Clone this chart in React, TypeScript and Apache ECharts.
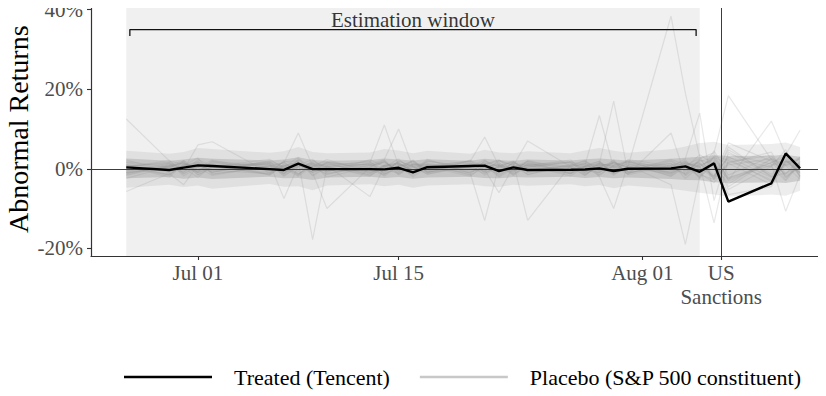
import React, { useEffect, useRef } from "react";
import * as echarts from "echarts";

// ---------- data ----------
const dates = [
  "2020-06-26", "2020-06-29", "2020-06-30", "2020-07-01", "2020-07-02",
  "2020-07-06", "2020-07-07", "2020-07-08", "2020-07-09", "2020-07-10",
  "2020-07-13", "2020-07-14", "2020-07-15", "2020-07-16", "2020-07-17",
  "2020-07-20", "2020-07-21", "2020-07-22", "2020-07-23", "2020-07-24",
  "2020-07-27", "2020-07-28", "2020-07-29", "2020-07-30", "2020-07-31",
  "2020-08-03", "2020-08-04", "2020-08-05", "2020-08-06", "2020-08-07",
  "2020-08-10", "2020-08-11", "2020-08-12",
];

// Abnormal returns (%) of the treated firm
const treated = [
  0.35, -0.3, 0.3, 0.85, 0.7, -0.1, -0.3, 1.3, -0.1, -0.1,
  -0.1, -0.15, 0.25, -0.9, 0.4, 0.7, 0.8, -0.6, 0.35, -0.3,
  -0.25, -0.2, 0.1, -0.55, 0.0, 0.1, 0.6, -0.75, 1.35, -8.25,
  -3.65, 3.85, 0.1,
];

// dense core of the placebo distribution (%)
const placeboCoreUpper = [
  2.6, 2.0, 2.3, 2.8, 2.5, 2.1, 2.3, 2.9, 2.2, 2.0, 2.2, 2.6, 2.3, 2.1, 2.4, 2.0, 2.5,
  2.2, 2.0, 2.3, 2.1, 2.4, 2.6, 2.3, 2.1, 2.5, 2.8, 3.0, 3.4, 3.2, 3.3, 3.5, 3.0,
];
const placeboCoreLower = [
  -2.4, -2.1, -2.5, -2.2, -2.6, -2.0, -2.4, -2.3, -2.8, -2.2, -2.0, -2.3, -2.1, -2.5, -2.2, -2.0, -2.3,
  -2.4, -2.1, -2.2, -2.0, -2.3, -2.1, -2.4, -2.2, -2.6, -2.8, -2.9, -3.4, -3.6, -3.4, -3.6, -3.0,
];
// lighter outer spread of the placebo lines (%)
const placeboOuterUpper = [
  4.5, 3.8, 4.2, 5.2, 5.0, 4.0, 4.4, 5.5, 4.2, 3.9, 4.1, 5.0, 4.6, 3.9, 4.5, 3.8, 4.8,
  4.1, 3.9, 4.4, 3.9, 4.6, 5.2, 4.5, 4.0, 4.9, 5.6, 6.5, 6.8, 6.0, 6.2, 6.6, 5.5,
];
const placeboOuterLower = [
  -4.8, -4.0, -4.6, -4.2, -5.0, -3.8, -4.5, -4.4, -5.4, -4.2, -3.9, -4.4, -4.0, -4.8, -4.2, -3.9, -4.4,
  -4.6, -4.0, -4.3, -3.9, -4.4, -4.1, -4.9, -4.2, -5.0, -5.5, -6.0, -6.5, -7.0, -6.5, -6.8, -5.5,
];

// individual placebo firms that stand out of the band (%)
const placebo01 = [12.5, 2.0, 1.0, -0.5, 0.8, 1.2, -0.8, 0.5, 1.5, -1.0, 0.3, 2.2, -1.5, 0.6, 1.1, -0.4, 0.9, -2.1, 0.2, 1.4, -0.6, 0.8, 1.9, -1.2, 0.4, -0.8, 1.6, 0.3, -2.4, 1.0, 2.5, -1.8, 0.7];
const placebo02 = [-1.5, 0.8, -0.6, 1.2, 0.4, -0.9, 1.8, 2.0, -17.8, 0.5, -1.2, 0.8, 0.3, -1.6, 1.0, 0.2, -0.7, 1.3, -0.4, 0.9, -1.1, 0.6, -0.3, 1.7, -0.9, 0.5, -1.4, 2.2, 1.1, -2.6, 0.8, 1.9, -1.0];
const placebo03 = [0.9, -1.8, 2.1, -0.4, 1.3, 0.6, -1.1, 0.9, 2.4, -0.6, 1.5, 11.0, 0.8, -2.0, 0.4, 1.6, -0.8, 0.3, 1.2, -1.4, 0.7, 2.0, -0.5, 0.6, 1.8, -1.0, 0.4, -1.9, 3.2, 2.1, -2.8, 1.2, 0.3];
const placebo04 = [-0.8, 1.4, 0.3, -2.2, 0.9, -0.4, 1.7, -1.3, 0.6, 2.3, -0.9, 0.4, 1.1, -0.6, 2.4, -1.2, -13.0, 0.9, -0.5, 1.8, 0.4, -1.6, 0.8, 1.3, -0.7, 2.1, 0.2, -1.1, -3.5, 1.4, 4.2, -2.3, 0.9];
const placebo05 = [1.6, -0.7, 0.9, 2.7, -1.4, 0.8, 0.3, 2.9, -1.8, 0.4, 1.2, -0.9, 1.9, 0.7, -1.3, 0.6, 2.2, -0.8, 1.5, -13.0, 1.0, 0.4, -1.7, 0.9, 2.1, -0.3, 1.3, 0.6, 2.6, -3.1, 1.6, 3.3, -1.4];
const placebo06 = [-2.4, 0.6, 1.5, -0.8, 2.0, -1.6, 0.9, -0.3, 1.2, -2.1, 0.5, 1.7, -0.6, 2.2, -0.9, 0.8, 1.4, -1.5, 0.3, 0.9, -0.4, 1.8, -2.0, -10.0, 1.1, 0.6, -1.2, 2.4, -1.7, 3.0, -2.2, 0.8, 2.5];
const placebo07 = [0.4, 2.1, -1.2, 0.7, -0.5, 1.9, -1.4, 1.1, 0.2, 1.6, -1.7, 0.3, 2.5, -0.8, 0.6, -1.9, 1.0, 2.3, -0.6, 0.5, 1.7, 1.0, 13.4, 0.2, 2.0, -1.5, 0.8, 1.3, -2.0, 2.8, 0.4, -3.0, 1.2];
const placebo08 = [-1.1, 0.3, 1.8, -1.6, 0.5, 2.4, 0.1, -1.9, 0.7, 1.1, -0.5, 2.0, -1.2, 0.9, 1.5, -0.7, 0.2, 1.6, -1.3, 0.8, 2.2, -0.9, 1.2, 17.0, -1.0, 1.4, -0.6, 1.9, 2.7, -2.2, 1.0, 2.4, -1.7];
const placebo09 = [1.2, -0.9, 0.6, 1.9, -1.3, 0.4, 1.6, -0.7, 2.1, 0.3, -1.5, 0.9, 1.4, -0.4, 0.7, 2.0, -1.1, 0.5, 1.8, -0.6, 0.9, -1.4, 0.6, 1.5, 0.5, 38.4, 19.0, 3.0, -2.8, 1.7, 3.4, -1.2, 0.6];
const placebo10 = [0.7, 1.5, -1.8, 0.3, 2.2, -0.6, 0.8, 1.3, -1.0, 0.6, 1.9, -1.3, 0.2, 1.7, -0.8, 0.5, 1.2, -1.9, 0.9, 0.3, -1.2, 1.4, 0.7, -1.6, 0.9, -4.0, -19.0, -2.0, 3.1, -2.4, 1.5, 2.9, -2.0];
const placebo11 = [-0.5, 0.9, 2.0, -1.1, 0.6, 1.4, -1.7, 0.4, 1.0, -0.8, 2.3, 0.6, -1.4, 1.1, 0.3, -1.0, 1.8, 0.7, -1.5, 1.2, 0.5, -0.9, 1.6, 0.2, -1.3, 1.9, -0.5, 1.0, -13.6, 2.5, -3.2, 1.8, 0.4];
const placebo12 = [0.2, -1.4, 0.8, 1.6, -0.9, 2.1, 0.5, -1.2, 0.9, 1.8, -0.3, -1.6, 1.0, 0.6, -1.1, 2.2, 0.3, -0.7, 1.4, 0.8, -1.8, 0.6, 1.3, -0.5, 1.7, -1.2, 0.9, 2.6, 4.0, 18.4, 2.3, -1.5, 3.0];
const placebo13 = [1.8, 0.4, -1.0, 2.3, 0.7, -1.5, 1.2, 0.2, -0.7, 1.5, 0.9, -1.8, 0.6, 2.0, -0.4, 1.1, -1.6, 0.8, 0.4, 1.9, -1.1, 0.3, 1.0, -0.8, 2.3, 0.7, -1.6, 1.4, -2.5, 3.6, 1.2, -10.7, -1.5];
const placebo14 = [-1.3, 1.1, 0.4, -0.6, 1.8, 0.9, -1.2, 2.4, 0.3, -1.4, 0.8, 1.5, -0.2, -1.0, 1.9, 0.4, -0.6, 2.1, 0.9, -1.5, 1.2, 0.7, -1.1, 1.6, 0.2, -0.9, 2.2, -1.3, 3.8, -2.9, 12.0, 3.5, 9.7];
const placebo15 = [-5.7, -1.2, -4.0, 0.9, -0.8, 1.6, 0.4, -1.5, 1.3, 0.6, -1.9, 0.8, 1.2, -0.5, 0.9, -1.4, 2.1, 0.3, -0.8, 1.1, 1.6, -1.2, 0.4, 2.0, -1.5, 0.8, 1.3, -2.2, 1.9, -4.5, 2.4, 0.8, -2.6];
const placebo16 = [0.5, 1.7, -0.3, 6.0, 6.8, -1.1, 0.7, 1.8, -0.9, 0.4, 1.3, -1.2, 2.0, 0.5, -0.8, 1.4, 0.2, -1.3, 1.7, -0.4, 0.9, 2.1, -0.6, 0.3, 1.2, -1.8, 0.9, 1.6, -2.1, 4.8, -1.4, 2.0, 1.1];
const placebo17 = [2.2, -0.6, 1.1, 0.4, -1.7, 0.8, 1.5, 9.0, 0.6, -1.3, 0.9, 1.8, -0.7, 0.3, 1.2, -1.6, 0.5, 1.0, -0.9, 2.1, -0.5, 0.7, 1.9, -1.4, 0.6, 1.3, -2.4, 0.5, 2.9, 1.4, -4.0, 1.7, 2.3];
const placebo18 = [-0.9, 0.5, 1.4, -1.5, 0.2, 1.7, -0.6, 1.2, -1.0, -10.0, 0.4, -0.8, 1.6, -1.1, 0.7, 1.3, -0.4, 0.6, 2.0, -1.0, 0.3, -1.7, 1.1, 0.8, -0.6, 2.4, 1.0, -1.5, -2.7, 5.5, -2.0, -1.1, 1.6];
const placebo19 = [1.0, -1.5, 0.7, 1.3, -0.4, -1.2, 2.0, 0.6, 1.4, -0.5, 1.1, 2.3, 10.0, 0.4, -1.4, 0.9, 1.5, -0.6, 0.2, 1.6, -1.3, 0.5, 0.9, -0.7, 1.4, -1.9, 0.3, 3.5, 1.2, -3.8, 2.6, 1.0, -0.8];
const placebo20 = [-1.7, 0.8, 0.2, -0.9, 1.6, 0.5, -1.3, 2.2, -0.4, 0.9, 1.7, -0.3, -1.0, 1.3, 0.6, 1.9, 8.0, 0.7, -1.2, 0.4, 1.5, -0.8, 1.3, 0.6, -1.1, 1.0, 1.8, -0.7, 4.5, -1.6, 3.1, -2.1, 0.5];
const placebo21 = [0.6, 1.2, -1.4, 0.8, 1.1, -0.2, 0.9, -1.6, 1.8, 0.2, -0.7, 1.0, 0.5, 1.9, -0.9, 0.3, 1.1, 2.0, 0.8, 7.0, 0.5, 1.2, -0.9, 1.7, 0.3, -1.3, 1.5, 0.4, -1.9, 6.5, 1.9, -2.8, 2.0];
const placebo22 = [-0.3, 0.6, 1.6, -1.0, 0.4, 1.1, -1.9, 0.8, 0.5, 1.3, -1.1, 0.7, 1.5, -0.9, 2.0, 0.1, -1.2, 0.9, 1.6, -0.8, 0.6, 1.4, -1.5, 0.9, 1.7, 0.3, 2.6, 14.0, -8.0, 4.2, -1.8, 1.3, 2.8];
const placebo23 = [0.8, -2.2, 1.3, 0.2, -0.9, 1.4, -7.5, 0.9, -0.4, 1.6, 0.3, -1.4, 0.8, 1.1, -0.6, 2.0, -0.3, -6.0, 0.5, 1.2, -0.8, 0.6, 1.5, -1.2, 0.7, -0.4, 1.8, -2.5, 2.0, -6.5, -4.5, 2.2, -1.0];
const placebo24 = [-1.0, 0.4, -0.8, 1.7, 0.6, -1.3, 0.5, 1.4, -1.6, 0.8, -7.0, 0.6, -0.5, 1.2, 0.9, -0.9, 0.4, 1.1, -1.7, 0.6, 1.8, -0.4, -1.0, 2.2, -1.4, 9.0, -1.8, 1.0, 2.2, -5.2, 0.6, 4.8, -2.2];

const placeboLines = [
  placebo01, placebo02, placebo03, placebo04, placebo05, placebo06, placebo07, placebo08,
  placebo09, placebo10, placebo11, placebo12, placebo13, placebo14, placebo15, placebo16,
  placebo17, placebo18, placebo19, placebo20, placebo21, placebo22, placebo23, placebo24,
];

// axis ticks
const xTickDates = ["2020-07-01", "2020-07-15", "2020-08-01"];
const xTickLabels = ["Jul 01", "Jul 15", "Aug 01"];
const eventDate = "2020-08-06"; // sanctions announced after the close of this day
const eventLabel = "US\nSanctions";
const yTicks = [-20, 0, 20, 40];

const estimationStart = "2020-06-26";
const estimationEnd = "2020-08-05";
const estimationLabel = "Estimation window";

const TREATED_NAME = "Treated (Tencent)";
const PLACEBO_NAME = "Placebo (S&P 500 constituent)";

// ---------- helpers ----------
const DAY = 86400000;
const origin = Date.parse(dates[0]);
const dayOf = (d: string) => (Date.parse(d) - origin) / DAY;
const xs = dates.map(dayOf);
const pts = (vals: number[]) => vals.map((v, i) => [xs[i], v]);

const FONT = "'Liberation Serif', 'Times New Roman', serif";

function bandSeries(name: string, upper: number[], lower: number[], fill: string, z: number) {
  return {
    name,
    type: "custom",
    silent: true,
    z,
    data: [[xs[0], upper[0]]],
    renderItem: (_p: any, api: any) => {
      const top = upper.map((v, i) => api.coord([xs[i], v]));
      const bottom = lower.map((v, i) => api.coord([xs[i], v])).reverse();
      return {
        type: "polygon",
        shape: { points: top.concat(bottom) },
        style: { fill },
      };
    },
  };
}

export default function App() {
  const ref = useRef<HTMLDivElement>(null);

  useEffect(() => {
    if (!ref.current) return;
    const chart = echarts.init(ref.current, undefined, { renderer: "svg" });

    const eventX = dayOf(eventDate) + 0.5;
    const estStart = dayOf(estimationStart);
    const estEnd = dayOf(estimationEnd);
    const bracketInset = 0.25;
    const bracketY = 35;
    const bracketTickY = 33.4;
    const labelY = 37.5;

    const xLabelMap: Record<string, string> = {};
    xTickDates.forEach((d, i) => (xLabelMap[String(dayOf(d))] = xTickLabels[i]));
    xLabelMap[String(eventX)] = eventLabel;

    const placeboLineStyle = { color: "rgba(150,150,150,0.22)", width: 1.2 };

    const series: any[] = [
      {
        name: "shade",
        type: "line",
        data: pts(treated),
        symbol: "none",
        lineStyle: { opacity: 0 },
        silent: true,
        z: 1,
        markArea: {
          silent: true,
          itemStyle: { color: "#F0F0F0" },
          data: [[{ xAxis: estStart }, { xAxis: estEnd }]],
        },
      },
      bandSeries("outer-band", placeboOuterUpper, placeboOuterLower, "rgba(150,150,150,0.17)", 2),
    ];

    placeboLines.forEach((vals, k) => {
      series.push({
        name: "placebo-" + k,
        type: "line",
        data: pts(vals),
        symbol: "none",
        lineStyle: placeboLineStyle,
        silent: true,
        z: 3,
      });
    });

    series.push(
      bandSeries("core-band", placeboCoreUpper, placeboCoreLower, "rgba(150,150,150,0.36)", 4),
      {
        name: PLACEBO_NAME,
        type: "line",
        data: [],
        symbol: "none",
        lineStyle: { color: "#C8C8C8", width: 2 },
        itemStyle: { color: "#C8C8C8" },
        z: 3,
      },
      {
        name: "refs",
        type: "line",
        data: pts(treated),
        symbol: "none",
        lineStyle: { opacity: 0 },
        silent: true,
        z: 5,
        markLine: {
          silent: true,
          symbol: "none",
          label: { show: false },
          lineStyle: { color: "#3C3C3C", width: 1, type: "solid" },
          data: [{ yAxis: 0 }, { xAxis: eventX }],
        },
      },
      {
        name: TREATED_NAME,
        type: "line",
        data: pts(treated),
        symbol: "none",
        lineStyle: { color: "#000000", width: 2.4 },
        itemStyle: { color: "#000000" },
        z: 6,
      },
      {
        name: "bracket",
        type: "line",
        data: [
          [estStart + bracketInset, bracketTickY],
          [estStart + bracketInset, bracketY],
          [estEnd - bracketInset, bracketY],
          [estEnd - bracketInset, bracketTickY],
        ],
        symbol: "none",
        lineStyle: { color: "#111111", width: 1.3 },
        silent: true,
        z: 7,
      },
      {
        name: "bracket-label",
        type: "scatter",
        data: [[(estStart + estEnd) / 2, labelY]],
        symbolSize: 1,
        itemStyle: { color: "rgba(0,0,0,0)" },
        silent: true,
        z: 7,
        label: {
          show: true,
          position: "inside",
          formatter: estimationLabel,
          color: "#000000",
          fontFamily: FONT,
          fontSize: 21,
        },
      }
    );

    chart.setOption({
      animation: false,
      backgroundColor: "#FFFFFF",
      textStyle: { fontFamily: FONT },
      grid: { left: 91, right: 0, top: 2.5, height: 253.5, outerBoundsMode: "none", containLabel: false },
      legend: {
        data: [
          { name: TREATED_NAME, icon: "rect", itemStyle: { color: "#000000" } },
          { name: PLACEBO_NAME, icon: "rect", itemStyle: { color: "#C8C8C8" } },
        ],
        left: 124,
        top: 366,
        padding: 0,
        itemWidth: 88,
        itemHeight: 2.5,
        itemGap: 30,
        selectedMode: false,
        textStyle: {
          fontFamily: FONT,
          fontSize: 22,
          color: "#000000",
          padding: [0, 0, 0, 17],
        },
      },
      xAxis: {
        type: "value",
        min: -2.46,
        max: 48.81,
        splitLine: { show: false },
        axisLine: { show: true, onZero: false, lineStyle: { color: "#333333", width: 1.2 } },
        axisTick: {
          show: true,
          length: 4,
          lineStyle: { color: "#333333", width: 1.1 },
          customValues: xTickDates.map(dayOf).concat([eventX]),
        },
        axisLabel: {
          customValues: xTickDates.map(dayOf).concat([eventX]),
          formatter: (v: number) => xLabelMap[String(v)] ?? "",
          color: "#4D4D4D",
          fontFamily: FONT,
          fontSize: 21,
          lineHeight: 24,
          margin: 5,
          hideOverlap: false,
        },
      },
      yAxis: {
        type: "value",
        min: -21.93,
        max: 41.8,
        name: "Abnormal Returns",
        nameLocation: "middle",
        nameGap: 59,
        nameRotate: 90,
        nameMoveOverlap: false,
        nameTextStyle: { fontFamily: FONT, fontSize: 28, color: "#000000" },
        splitLine: { show: false },
        axisLine: { show: true, onZero: false, lineStyle: { color: "#333333", width: 1.2 } },
        axisTick: {
          show: true,
          length: 4,
          lineStyle: { color: "#333333", width: 1.1 },
          customValues: yTicks,
        },
        axisLabel: {
          customValues: yTicks,
          formatter: (v: number) => `${v}%`,
          color: "#4D4D4D",
          fontFamily: FONT,
          fontSize: 21,
          margin: 8,
        },
      },
      series,
    });

    return () => chart.dispose();
  }, []);

  return <div ref={ref} style={{ width: 826, height: 396, marginLeft: -8, marginTop: -8 }} />;
}
